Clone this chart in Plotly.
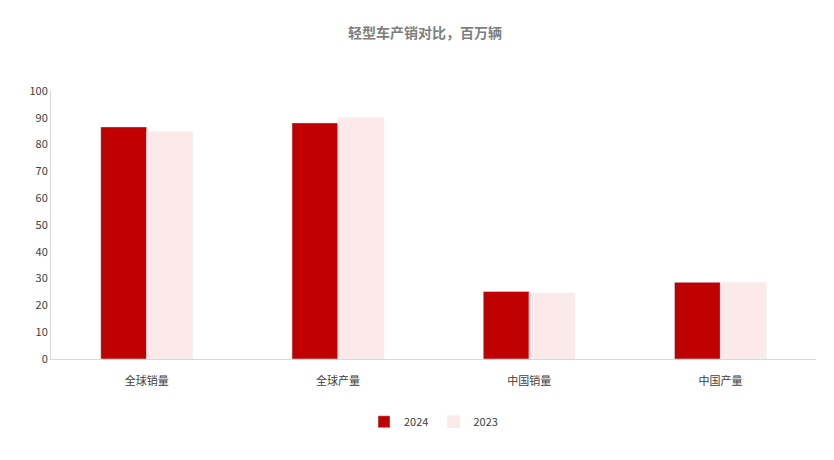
import plotly.graph_objects as go

categories = ["全球销量", "全球产量", "中国销量", "中国产量"]
sales_2024 = [86.6, 88.1, 25.2, 28.6]
sales_2023 = [84.8, 90.0, 24.6, 28.6]
y_ticks = list(range(0, 101, 10))

font = "Noto Sans CJK SC"

fig = go.Figure()
fig.add_trace(go.Bar(x=categories, y=sales_2024, name="2024", marker_color="#C00000"))
fig.add_trace(go.Bar(x=categories, y=sales_2023, name="2023", marker_color="#FCEAEA"))

fig.update_layout(
    width=834, height=460,
    margin=dict(l=43, r=26, t=83, b=109),
    paper_bgcolor="white", plot_bgcolor="white",
    font=dict(family=font, size=11, color="#404040"),
    title=dict(text="<b>轻型车产销对比，百万辆</b>", x=0.5, xanchor="center",
               y=0.945, yanchor="middle", font=dict(size=14, color="#7f7f7f")),
    barmode="group", bargap=0.52, bargroupgap=0,
    legend=dict(orientation="h", x=0.5, xanchor="center", y=-0.18, yanchor="top",
                font=dict(size=11), itemwidth=30),
    xaxis=dict(showline=True, linecolor="#d9d9d9", ticks="outside", ticklen=12,
               tickcolor="rgba(0,0,0,0)", tickfont=dict(size=11)),
    yaxis=dict(range=[0, 100], tickvals=y_ticks, showgrid=False, showline=True,
               linecolor="#d9d9d9", ticks="", tickfont=dict(size=11)),
)

fig.write_html("out.html")
